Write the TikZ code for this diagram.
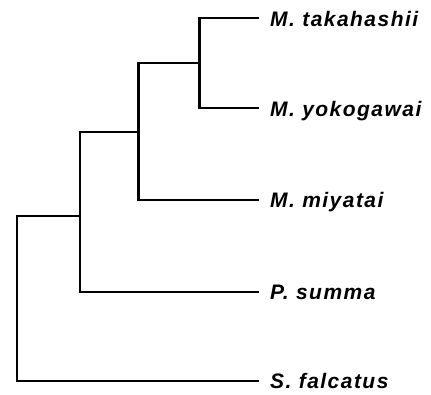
\documentclass[tikz,border=0pt]{standalone}
\usepackage{fontspec}
\setmainfont{Liberation Sans}
\newfontfamily\taxfont[LetterSpace=7]{Liberation Sans}
\begin{document}
\begin{tikzpicture}[x=1pt,y=-1pt,
  branch/.style={line width=2.2pt,line cap=rect,line join=miter},
  taxon/.style={anchor=base west,inner sep=0pt,font=\taxfont\bfseries\itshape\fontsize{21}{25}\selectfont}]
\useasboundingbox (0,0) rectangle (431,394);
% internal nodes (junction points)
\coordinate (n1) at (199.5,63.3);
\coordinate (n2) at (138.5,131.7);
\coordinate (n3) at (80,216);
\coordinate (root) at (16.7,298.3);
% tips
\coordinate (t1) at (258.3,18.3);
\coordinate (t2) at (258.3,108.3);
\coordinate (t3) at (258.3,200);
\coordinate (t4) at (258.3,291.7);
\coordinate (t5) at (258.3,380.7);
% labels
\node[taxon] (l1) at (270,26) {M. takahashii};
\node[taxon] (l2) at (270,116) {M. yokogawai};
\node[taxon] (l3) at (270,207.7) {M. miyatai};
\node[taxon] (l4) at (270,299.4) {P. summa};
\node[taxon] (l5) at (270,388.4) {S. falcatus};
% branches
\draw[branch] (n1) |- (t1);
\draw[branch] (n1) |- (t2);
\draw[branch] (n2) |- (n1);
\draw[branch] (n2) |- (t3);
\draw[branch] (n3) |- (n2);
\draw[branch] (n3) |- (t4);
\draw[branch] (root) |- (n3);
\draw[branch] (root) |- (t5);
\end{tikzpicture}
\end{document}
